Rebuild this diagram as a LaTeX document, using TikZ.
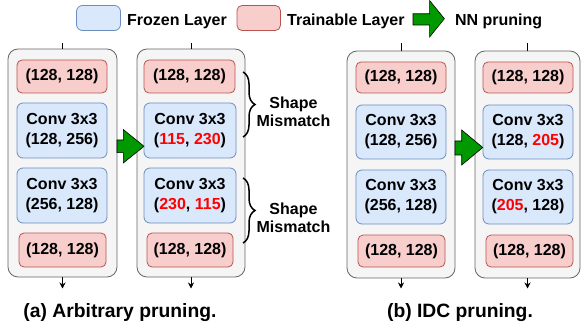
\documentclass[tikz,border=0pt]{standalone}
\usepackage{fontspec}
\setmainfont{Liberation Sans}
\usetikzlibrary{decorations.pathreplacing,arrows.meta}
\definecolor{frozfill}{HTML}{DAE8FC}
\definecolor{frozdraw}{HTML}{6C8EBF}
\definecolor{trainfill}{HTML}{F8CECC}
\definecolor{traindraw}{HTML}{B85450}
\definecolor{contfill}{HTML}{F5F5F5}
\definecolor{contdraw}{HTML}{666666}
\definecolor{arrgreen}{HTML}{009900}
\definecolor{redtxt}{HTML}{FF0000}
\newcommand{\rd}[1]{\textcolor{redtxt}{#1}}
\begin{document}
\begin{tikzpicture}[x=1pt,y=-1pt,
  txt/.style={font=\fontsize{16}{20}\selectfont\bfseries, align=center, inner sep=0pt},
  captxt/.style={font=\fontsize{19.3}{23}\selectfont\bfseries, inner sep=0pt},
  mistxt/.style={font=\fontsize{16}{18}\selectfont\bfseries, align=center, inner sep=0pt},
  container/.style={draw=contdraw, fill=contfill, rounded corners=10pt, line width=0.8pt, inner sep=0pt},
  frozen/.style={txt, draw=frozdraw, fill=frozfill, rounded corners=6pt, line width=0.8pt},
  trainable/.style={txt, draw=traindraw, fill=trainfill, rounded corners=5pt, line width=0.8pt},
  pruning/.style={draw=black, fill=arrgreen, line width=0.6pt, line join=miter},
  inline/.style={draw=black, line width=0.8pt},
  flow/.style={draw=black, line width=0.8pt, -{Stealth[length=6pt,width=6pt]}},
  bracestyle/.style={decorate, decoration={brace, amplitude=12pt}, line width=1.5pt},
]
\useasboundingbox (0,0) rectangle (581,326);

% legend
\node[frozen, minimum width=44, minimum height=25] (lgf) at (98.5,18) {};
\node[txt, anchor=base west] (lgft) at (127,25.5) {Frozen Layer};
\node[trainable, minimum width=43.4, minimum height=25] (lgt) at (258.7,18) {};
\node[txt, anchor=base west] (lgtt) at (287,25.5) {Trainable Layer};
\draw[pruning] (413,13.8) -- (429.6,13.8) -- (429.6,0.5) -- (444.4,18.7) -- (429.6,37) -- (429.6,25) -- (413,25) -- cycle;
\node[txt, anchor=base west] (lgpt) at (454.8,25.5) {NN pruning};

% containers
\node[container, minimum width=109, minimum height=228] (c1) at (62.5,163) {};
\node[container, minimum width=108, minimum height=228] (c2) at (191,163) {};
\node[container, minimum width=108, minimum height=227] (c3) at (401,164.5) {};
\node[container, minimum width=105, minimum height=227] (c4) at (527.5,164.5) {};

% container 1
\node[trainable, minimum width=90, minimum height=33] (a1) at (62,76.5) {(128, 128)};
\node[frozen, minimum width=90, minimum height=55] (a2) at (62,130.5) {Conv 3x3\\(128, 256)};
\node[frozen, minimum width=90, minimum height=55] (a3) at (62,195.5) {Conv 3x3\\(256, 128)};
\node[trainable, minimum width=87, minimum height=34] (a4) at (62.5,250) {(128, 128)};

% container 2
\node[trainable, minimum width=91, minimum height=33] (b1) at (189.5,76.5) {(128, 128)};
\node[frozen, minimum width=92, minimum height=55] (b2) at (190,130.5) {Conv 3x3\\(\rd{115}, \rd{230})};
\node[frozen, minimum width=92, minimum height=55] (b3) at (190,195.5) {Conv 3x3\\(\rd{230}, \rd{115})};
\node[trainable, minimum width=86, minimum height=34] (b4) at (190,250) {(128, 128)};

% container 3
\node[trainable, minimum width=90, minimum height=31] (d1) at (401,77.5) {(128, 128)};
\node[frozen, minimum width=90, minimum height=54] (d2) at (401,132) {Conv 3x3\\(128, 256)};
\node[frozen, minimum width=90, minimum height=54] (d3) at (401,197) {Conv 3x3\\(256, 128)};
\node[trainable, minimum width=87, minimum height=32] (d4) at (401.5,251) {(128, 128)};

% container 4
\node[trainable, minimum width=90, minimum height=31] (e1) at (528,77.5) {(128, 128)};
\node[frozen, minimum width=90, minimum height=54] (e2) at (528,132) {Conv 3x3\\(128, \rd{205})};
\node[frozen, minimum width=90, minimum height=54] (e3) at (528,197) {Conv 3x3\\(\rd{205}, 128)};
\node[trainable, minimum width=87, minimum height=32] (e4) at (529.5,251) {(128, 128)};

% pruning arrows
\draw[pruning] (117,140) -- (123.3,140) -- (123.3,129.5) -- (144,146.3) -- (123.3,163) -- (123.3,152.7) -- (117,152.7) -- cycle;
\draw[pruning] (455,141) -- (461.7,141) -- (461.7,130) -- (482.7,147.5) -- (461.7,165) -- (461.7,155) -- (455,155) -- cycle;

% in / out lines
\coordinate (t1) at (62.5,43);
\coordinate (t2) at (191,43);
\coordinate (t3) at (401,43);
\coordinate (t4) at (527.5,43);
\draw[inline] (t1) -- (c1.north);
\draw[inline] (t2) -- (c2.north);
\draw[inline] (t3) -- (c3.north);
\draw[inline] (t4) -- (c4.north);
\coordinate (o1) at (62.5,288.5);
\coordinate (o2) at (191,288.5);
\coordinate (o3) at (401,288.5);
\coordinate (o4) at (527.5,288.5);
\draw[flow] (c1.south) -- (o1);
\draw[flow] (c2.south) -- (o2);
\draw[flow] (c3.south) -- (o3);
\draw[flow] (c4.south) -- (o4);

% braces
\coordinate (br1a) at (243,72);
\coordinate (br1b) at (243,137);
\coordinate (br2a) at (243,178);
\coordinate (br2b) at (243,243);
\draw[bracestyle] (br1a) -- (br1b);
\draw[bracestyle] (br2a) -- (br2b);
\node[mistxt] (m1) at (293.5,111.5) {Shape\\Mismatch};
\node[mistxt] (m2) at (293.5,218) {Shape\\Mismatch};

% captions
\node[captxt, anchor=base] (capa) at (120,317.5) {(a) Arbitrary pruning.};
\node[captxt, anchor=base] (capb) at (460,317.5) {(b) IDC pruning.};
\end{tikzpicture}
\end{document}
